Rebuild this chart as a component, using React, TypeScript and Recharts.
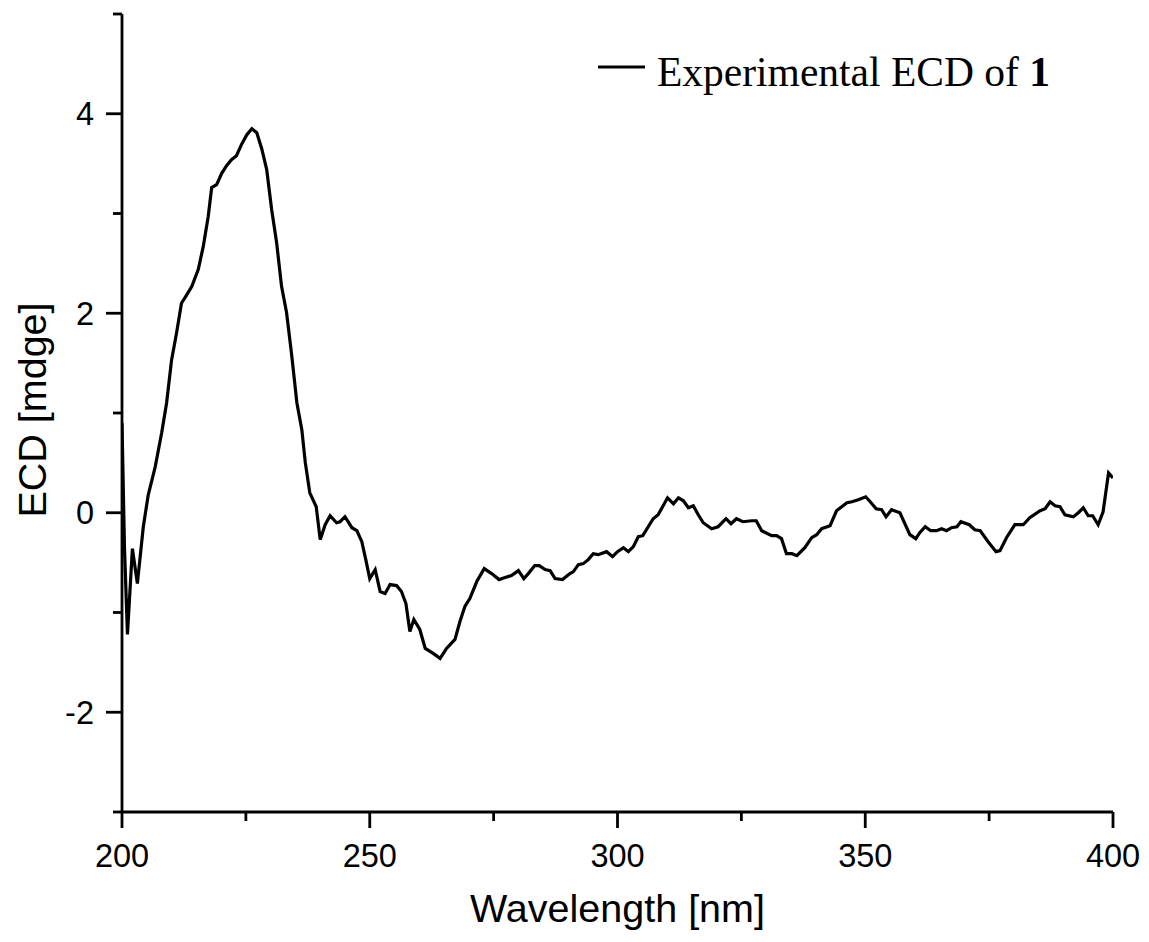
import React from 'react';
import { LineChart, Line, XAxis, YAxis, Legend } from 'recharts';

const wavelengths = [
  200.0, 200.5, 201.1, 202.1, 203.1, 204.3, 205.3, 206.7, 208.0, 209.0,
  210.0, 211.0, 212.0, 213.0, 214.1, 215.4, 216.4, 217.4, 218.1, 219.1,
  220.1, 221.1, 222.1, 223.1, 224.2, 225.2, 226.2, 227.2, 228.2, 229.2,
  230.2, 231.2, 232.2, 233.2, 234.2, 235.3, 236.3, 237.0, 237.9, 239.2,
  240.0, 241.0, 242.0, 243.3, 244.0, 245.0, 246.4, 247.4, 248.4, 249.2,
  250.0, 251.1, 252.1, 253.1, 254.1, 255.4, 256.4, 257.3, 258.1, 258.9,
  260.1, 261.2, 262.8, 264.2, 265.5, 267.2, 268.2, 269.2, 270.2, 271.6,
  273.1, 274.6, 276.1, 277.3, 278.6, 280.0, 281.1, 282.0, 283.3, 284.2,
  285.4, 286.4, 287.4, 288.9, 290.4, 291.1, 292.1, 293.1, 294.1, 295.1,
  296.1, 297.8, 299.0, 300.0, 301.2, 302.2, 303.2, 304.2, 305.1, 306.2,
  307.2, 308.2, 309.1, 310.1, 311.3, 312.3, 313.3, 314.3, 315.3, 316.3,
  317.3, 319.0, 320.3, 321.9, 322.9, 324.0, 325.3, 327.1, 328.0, 329.1,
  331.1, 332.1, 333.1, 334.1, 335.2, 336.2, 337.8, 339.2, 340.2, 341.2,
  342.9, 344.2, 346.3, 347.3, 348.6, 350.1, 351.0, 352.2, 353.3, 354.2,
  355.3, 357.0, 359.0, 360.2, 361.0, 362.1, 363.2, 364.4, 365.4, 366.4,
  367.4, 368.5, 369.3, 371.0, 372.1, 373.2, 374.8, 376.4, 377.2, 378.5,
  380.2, 381.9, 383.2, 385.3, 386.3, 387.3, 388.3, 389.3, 390.3, 392.0,
  393.0, 394.0, 395.0, 395.9, 397.0, 398.0, 399.1, 400.0,
];

const ecdValues = [
  0.90, -0.35, -1.22, -0.36, -0.71, -0.14, 0.18, 0.46, 0.80, 1.10,
  1.53, 1.80, 2.10, 2.18, 2.27, 2.44, 2.67, 2.97, 3.26, 3.29,
  3.40, 3.48, 3.54, 3.58, 3.70, 3.79, 3.85, 3.81, 3.65, 3.44,
  3.04, 2.71, 2.27, 2.01, 1.60, 1.10, 0.83, 0.50, 0.20, 0.06,
  -0.27, -0.12, -0.03, -0.10, -0.09, -0.04, -0.15, -0.18, -0.29, -0.47,
  -0.66, -0.57, -0.79, -0.81, -0.72, -0.73, -0.79, -0.91, -1.19, -1.07,
  -1.17, -1.36, -1.41, -1.46, -1.36, -1.27, -1.09, -0.94, -0.86, -0.69,
  -0.56, -0.61, -0.67, -0.65, -0.63, -0.58, -0.66, -0.61, -0.53, -0.53,
  -0.57, -0.58, -0.66, -0.67, -0.61, -0.59, -0.52, -0.51, -0.47, -0.41,
  -0.42, -0.39, -0.44, -0.39, -0.35, -0.39, -0.34, -0.24, -0.23, -0.14,
  -0.06, -0.02, 0.06, 0.15, 0.09, 0.15, 0.12, 0.05, 0.07, -0.02,
  -0.10, -0.16, -0.14, -0.06, -0.11, -0.06, -0.09, -0.08, -0.08, -0.18,
  -0.23, -0.23, -0.26, -0.41, -0.41, -0.43, -0.35, -0.25, -0.22, -0.16,
  -0.13, 0.02, 0.10, 0.11, 0.13, 0.16, 0.11, 0.04, 0.03, -0.04,
  0.03, 0.00, -0.22, -0.26, -0.20, -0.14, -0.18, -0.18, -0.16, -0.18,
  -0.15, -0.14, -0.09, -0.12, -0.17, -0.18, -0.29, -0.39, -0.38, -0.25,
  -0.12, -0.12, -0.05, 0.02, 0.04, 0.11, 0.07, 0.06, -0.02, -0.04,
  0.00, 0.05, -0.03, -0.03, -0.12, 0.01, 0.40, 0.35,
];

const xTicks = [200, 225, 250, 275, 300, 325, 350, 375, 400];
const xMajorTicks = [200, 250, 300, 350, 400];
const yTicks = [-3, -2, -1, 0, 1, 2, 3, 4, 5];
const yMajorTicks = [-2, 0, 2, 4];
const xTitle = 'Wavelength [nm]';
const yTitle = 'ECD [mdge]';
const legendText = 'Experimental ECD of ';
const legendBold = '1';

const data = wavelengths.map((w, i) => ({ w, v: ecdValues[i] }));

const SANS = '"Liberation Sans", Arial, sans-serif';
const SERIF = '"Liberation Serif", "Times New Roman", serif';

const XTick = (props: any) => {
  const { x, y, payload } = props;
  const major = xMajorTicks.includes(payload.value);
  return (
    <g>
      <line x1={x} x2={x} y1={y} y2={y + (major ? 16 : 9)} stroke="#000" strokeWidth={2.8} />
      {major && (
        <text x={x} y={y + 55} textAnchor="middle" fontSize={32.5} fontFamily={SANS} fill="#000">
          {payload.value}
        </text>
      )}
    </g>
  );
};

const YTick = (props: any) => {
  const { x, y, payload } = props;
  const major = yMajorTicks.includes(payload.value);
  return (
    <g>
      <line x1={x} x2={x - (major ? 16 : 9)} y1={y} y2={y} stroke="#000" strokeWidth={2.8} />
      {major && (
        <text x={x - 28} y={y + 11.5} textAnchor="end" fontSize={32.5} fontFamily={SANS} fill="#000">
          {String(payload.value)}
        </text>
      )}
    </g>
  );
};

const LegendContent = () => (
  <svg width={480} height={70} style={{ display: 'block' }}>
    <line x1={10} x2={57} y1={29} y2={29} stroke="#000" strokeWidth={3.2} />
    <text x={69} y={48} fontSize={41.5} fontFamily={SERIF} fill="#000">
      {legendText}
      <tspan fontWeight="bold">{legendBold}</tspan>
    </text>
  </svg>
);

export default function App() {
  return (
    <LineChart
      width={1133}
      height={926}
      data={data}
      margin={{ top: 6, right: 28, left: 0, bottom: 0 }}
    >
      <XAxis
        dataKey="w"
        type="number"
        domain={[200, 400]}
        ticks={xTicks}
        allowDataOverflow
        height={122}
        tickSize={0}
        tickMargin={0}
        tickLine={false}
        axisLine={{ stroke: '#000', strokeWidth: 2.8 }}
        tick={XTick}
        interval={0}
        label={() => (
          <text x={609.5} y={914} textAnchor="middle" fontSize={39.5} fontFamily={SANS} fill="#000">
            {xTitle}
          </text>
        )}
      />
      <YAxis
        type="number"
        domain={[-3, 5]}
        ticks={yTicks}
        allowDataOverflow
        width={114}
        tickSize={0}
        tickMargin={0}
        tickLine={false}
        axisLine={{ stroke: '#000', strokeWidth: 2.8 }}
        tick={YTick}
        interval={0}
        label={() => (
          <text
            x={38}
            y={402}
            transform="rotate(-90 38 402)"
            textAnchor="middle"
            fontSize={39.5}
            fontFamily={SANS}
            fill="#000"
          >
            {yTitle}
          </text>
        )}
      />
      <Legend
        layout="vertical"
        align="center"
        verticalAlign="middle"
        wrapperStyle={{ top: 30, left: 580, width: 'auto', height: 'auto' }}
        content={LegendContent}
      />
      <Line
        type="linear"
        dataKey="v"
        name={legendText + legendBold}
        stroke="#000"
        strokeWidth={3.2}
        dot={false}
        activeDot={false}
        isAnimationActive={false}
      />
    </LineChart>
  );
}
